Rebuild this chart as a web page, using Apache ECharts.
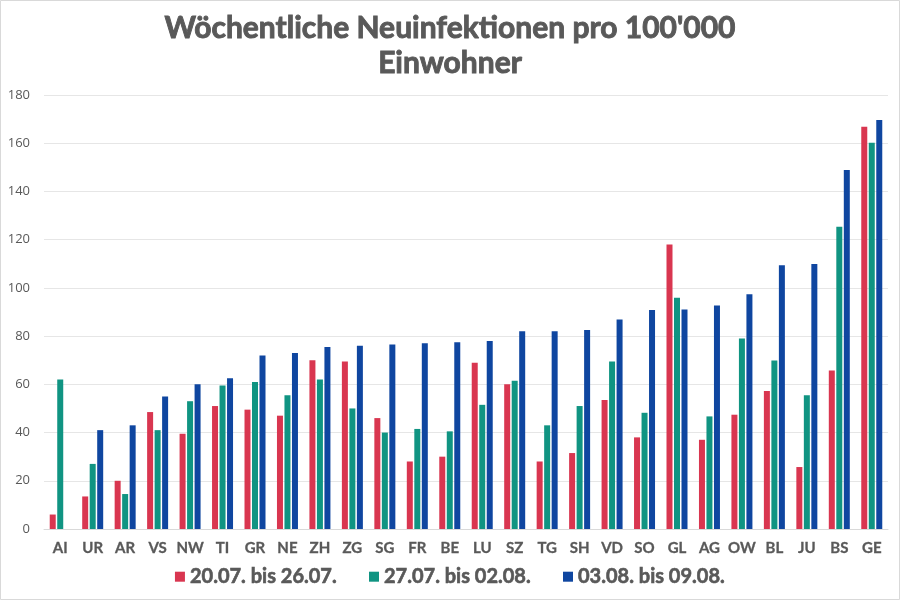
<!DOCTYPE html>
<html><head><meta charset="utf-8">
<script src="https://cdn.jsdelivr.net/npm/echarts@6/dist/echarts.min.js"></script>
<style>html,body{margin:0;padding:0;background:#fff}#c{width:900px;height:600px}</style>
</head><body><div id="c"></div>
<script>
const categories = ['AI','UR','AR','VS','NW','TI','GR','NE','ZH','ZG','SG','FR','BE','LU','SZ','TG','SH','VD','SO','GL','AG','OW','BL','JU','BS','GE'];
const week1 = [6,13.5,20,48.5,39.5,51,49.5,47,70,69.5,46,28,30,69,60,28,31.5,53.5,38,118,37,47.4,57.2,25.7,65.7,166.8];
const week2 = [62,27,14.5,41,53,59.5,61,55.5,62,50,40,41.5,40.5,51.5,61.5,43,51,69.5,48.2,95.9,46.7,79,69.9,55.5,125.4,160.2];
const week3 = [null,41,43,55,60,62.5,72,73,75.5,76,76.5,77,77.5,78,82,82,82.5,86.9,90.8,91,92.7,97.4,109.4,109.9,148.9,169.6];
const seriesNames = ['20.07. bis 26.07.','27.07. bis 02.08.','03.08. bis 09.08.'];
const colors = ['#d93650','#109482','#0f46a0'];
const yTicks = {min:0, max:180, interval:20};

const chart = echarts.init(document.getElementById('c'), null, {renderer:'canvas'});
const txt = '#595959';
chart.setOption({
  animation:false,
  backgroundColor:'#fff',
  title:{
    text:"Wöchentliche Neuinfektionen pro 100'000\nEinwohner",
    left:'center', top:6,
    textStyle:{fontFamily:'Lato', fontWeight:'bold', fontSize:30, color:txt, lineHeight:35,
      textBorderColor:txt, textBorderWidth:0.9}
  },
  graphic:[{type:'rect', shape:{x:0.5,y:0.5,width:899,height:599}, style:{fill:'none', stroke:'#d9d9d9', lineWidth:1}, silent:true}],
  legend:{
    bottom:8, left:'center', itemWidth:10, itemHeight:10, itemGap:32, icon:'rect',
    textStyle:{fontFamily:'Lato', fontWeight:'bold', fontSize:20, color:txt,
      textBorderColor:txt, textBorderWidth:0.6},
    data:seriesNames
  },
  grid:{left:44, right:12, top:95, bottom:71, containLabel:false},
  xAxis:{
    type:'category', data:categories,
    axisLine:{lineStyle:{color:'#d9d9d9'}}, axisTick:{show:false},
    axisLabel:{interval:0, fontFamily:'Lato', fontWeight:'bold', fontSize:15, color:txt, margin:12,
      textBorderColor:txt, textBorderWidth:0.3}
  },
  yAxis:{
    type:'value', min:yTicks.min, max:yTicks.max, interval:yTicks.interval,
    axisLine:{show:false}, axisTick:{show:false},
    splitLine:{lineStyle:{color:'#e6e6e6'}},
    axisLabel:{fontFamily:'Open Sans', fontSize:13, color:txt, margin:14}
  },
  series:[
    {name:seriesNames[0], type:'bar', data:week1, barWidth:6, barGap:'25%', itemStyle:{color:colors[0]}},
    {name:seriesNames[1], type:'bar', data:week2, barWidth:6, barGap:'25%', itemStyle:{color:colors[1]}},
    {name:seriesNames[2], type:'bar', data:week3, barWidth:6, barGap:'25%', itemStyle:{color:colors[2]}}
  ]
});
</script></body></html>
